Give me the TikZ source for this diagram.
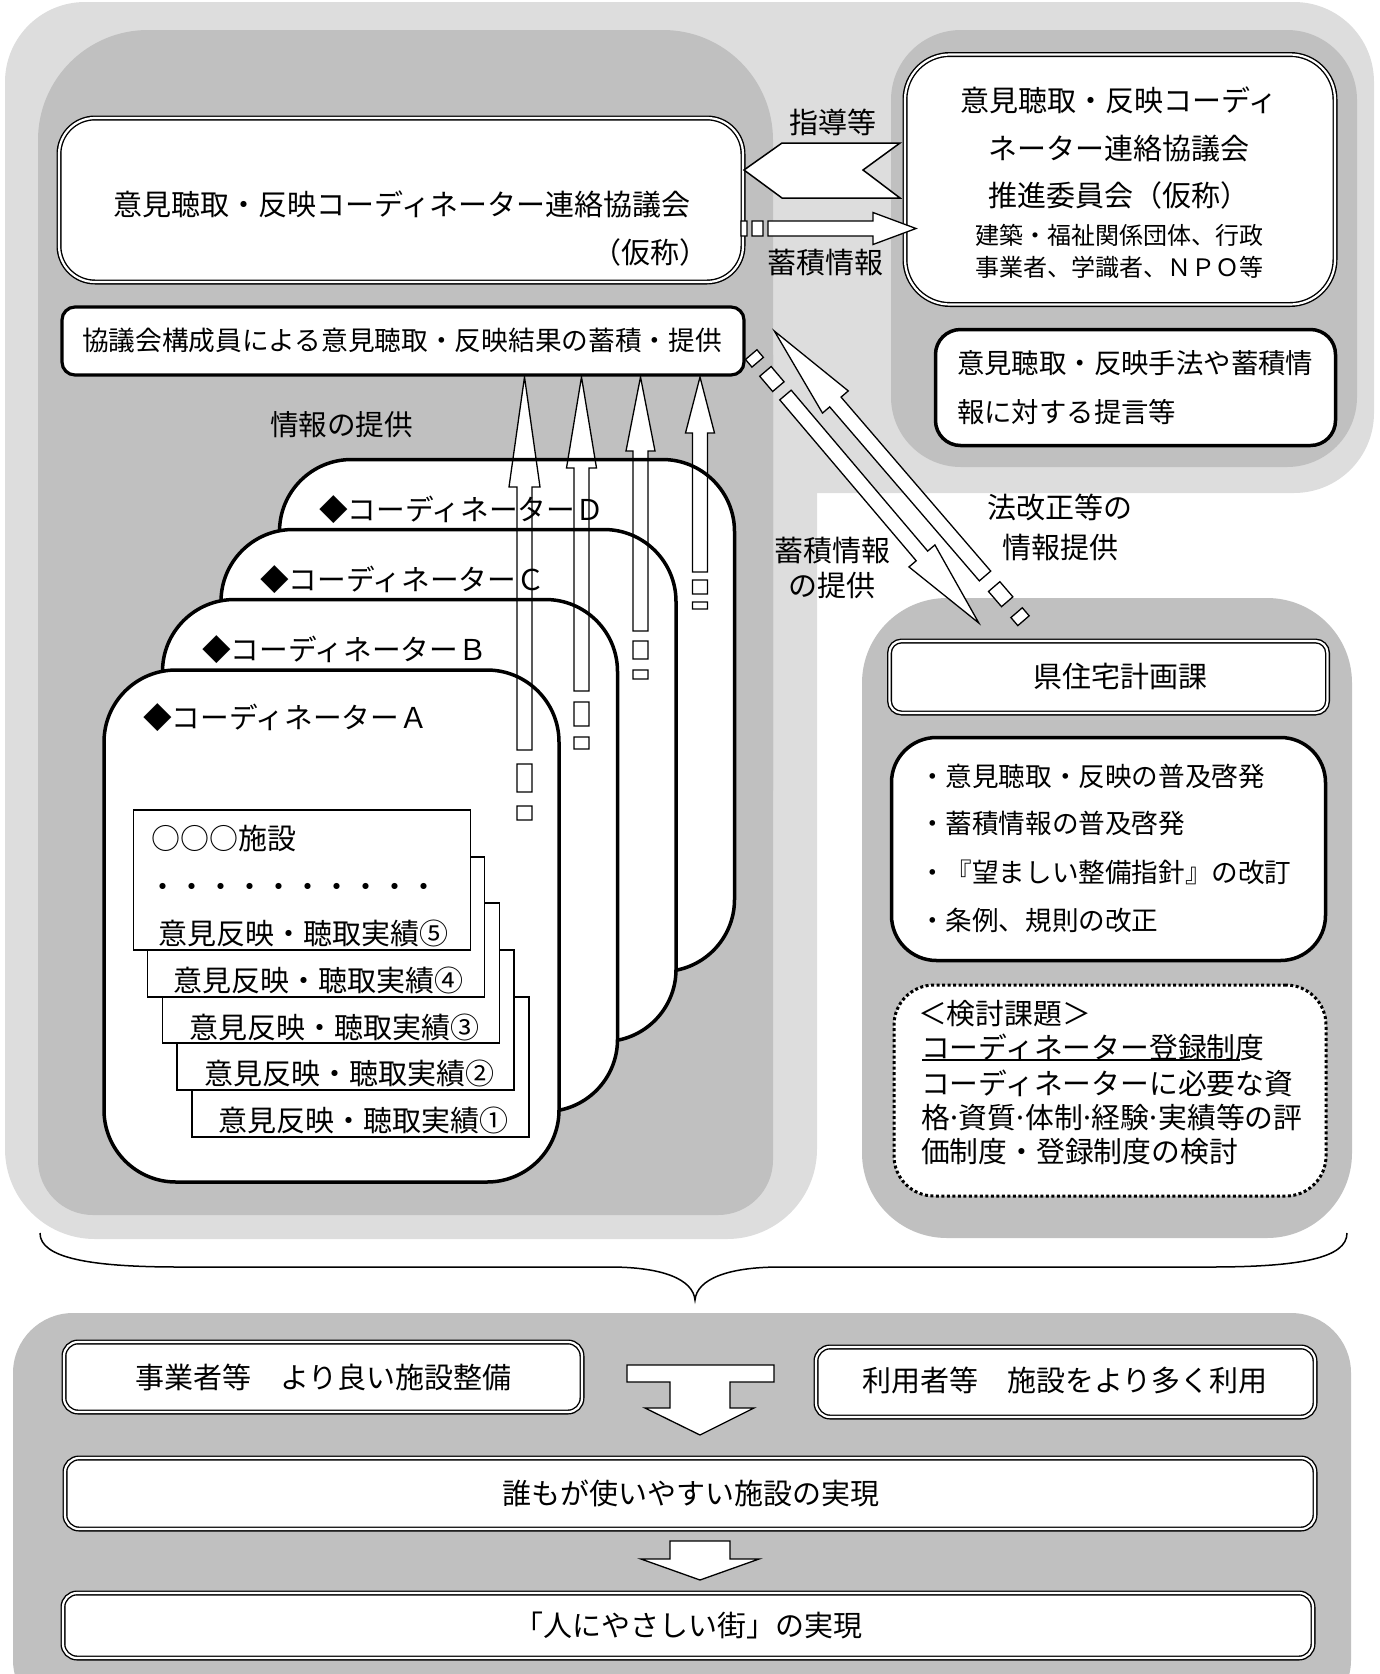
\documentclass[tikz,border=0pt]{standalone}
\usepackage{fontspec}
\setmainfont{Noto Sans CJK JP}
\definecolor{lg}{RGB}{221,221,221}
\definecolor{dg}{RGB}{192,192,192}
\def\bhw{7.5}
\def\hhw{15}
\newcommand{\sarrow}[9]{%
  \path[#1, shift={#2}, rotate=#3] (0,-\bhw) rectangle (#4,\bhw) (#5,-\bhw) rectangle (#6,\bhw)
    (#7,-\bhw) -- (#8,-\bhw) -- (#8,-\hhw) -- (#9,0) -- (#8,\hhw) -- (#8,\bhw) -- (#7,\bhw) -- cycle;}
\newcommand{\nd}{\kern-3.6pt·\kern-3.6pt}
\begin{document}
\begin{tikzpicture}[x=1pt,y=-1pt,
  every node/.style={inner sep=0pt,outer sep=0pt},
  tx/.style={font=\fontsize{#1}{#1}\selectfont, yshift=-0.38*#1},
  tx/.default=29,
  dbl/.style={fill=white, draw=black, line width=1.4pt, double=white, double distance=2.2pt},
  thk/.style={fill=white, draw=black, line width=3.2pt},
  cb/.style={fill=white, draw=black, line width=3.5pt, rounded corners=72pt, minimum width=455pt, minimum height=512pt},
  cd/.style={fill=white, draw=black, line width=1.4pt, minimum width=337pt, minimum height=140pt},
  arr/.style={fill=white, draw=black, line width=1.3pt},
  arrline/.style={draw=black, line width=1.3pt},
]
\useasboundingbox (0,0) rectangle (1380,1674);
\clip (0,0) rectangle (1380,1674);
% backgrounds
\fill[lg, rounded corners=80pt] (5,2) rectangle (1374,493);
\fill[lg, rounded corners=90pt] (5,2) rectangle (817,1239);
\fill[dg, rounded corners=110pt] (38,30) rectangle (773,900);
\fill[dg, rounded corners=55pt] (38,300) rectangle (773,1215);
\fill[dg, rounded corners=70pt] (891,30) rectangle (1357,467);
\fill[dg, rounded corners=85pt] (862,598) rectangle (1352,1238);
\fill[dg, rounded corners=60pt] (13,1313) rectangle (1351,1720);
% brace
\draw[line width=1.5pt] (40,1233) .. controls (40,1258) and (90,1267) .. (180,1267) -- (610,1267)
  .. controls (662,1267) and (693,1279) .. (695,1300) .. controls (697,1279) and (728,1267) .. (780,1267)
  -- (1210,1267) .. controls (1300,1267) and (1347,1258) .. (1347,1233);
% vertical arrows: fill pass
\def\hhw{15.5}\sarrow{fill=white}{(524.5,820)}{90}{14}{28}{56}{70}{333}{443}
\def\hhw{15}\sarrow{fill=white}{(581.5,749)}{90}{12}{23}{47}{58}{281}{372}
\def\hhw{14.5}\sarrow{fill=white}{(640.5,679)}{90}{9}{20}{38}{48}{228}{302}
\def\hhw{14.5}\sarrow{fill=white}{(700,609)}{90}{7}{15}{29}{37}{176}{232}
% coordinator boxes
\node[cb] (cD) at (507,715.5) {};
\node[cb] (cC) at (448.5,785.5) {};
\node[cb] (cB) at (390,855.5) {};
\node[cb] (cA) at (331.5,926) {};
% cards
\node[cd] (k1) at (360.5,1067) {};
\node[cd] (k2) at (345.5,1020) {};
\node[cd] (k3) at (331,973) {};
\node[cd] (k4) at (316,927) {};
\node[cd] (k5) at (302,880) {};
% vertical arrows: outline pass
\def\hhw{15.5}\sarrow{arrline}{(524.5,820)}{90}{14}{28}{56}{70}{333}{443}
\def\hhw{15}\sarrow{arrline}{(581.5,749)}{90}{12}{23}{47}{58}{281}{372}
\def\hhw{14.5}\sarrow{arrline}{(640.5,679)}{90}{9}{20}{38}{48}{228}{302}
\def\hhw{14.5}\sarrow{arrline}{(700,609)}{90}{7}{15}{29}{37}{176}{232}
% main boxes
\node[dbl, rounded corners=36pt, minimum width=684pt, minimum height=164pt] (b1) at (401,200) {};
\node[thk, rounded corners=13pt, minimum width=682pt, minimum height=68pt] (b2) at (403,341) {};
\node[dbl, rounded corners=45pt, minimum width=430pt, minimum height=250pt] (b3) at (1120,179.5) {};
\node[thk, line width=3.5pt, rounded corners=25pt, minimum width=400pt, minimum height=116pt] (b4) at (1135.5,387.5) {};
\node[dbl, rounded corners=12pt, minimum width=438pt, minimum height=72pt] (b5) at (1108.5,677) {};
\node[thk, line width=3.5pt, rounded corners=45pt, minimum width=434pt, minimum height=223pt] (b6) at (1108.5,849) {};
\node[fill=white, draw=black, line width=3pt, dash pattern=on 3pt off 2.5pt, rounded corners=40pt, minimum width=432pt, minimum height=211pt] (b7) at (1110,1090.5) {};
\node[dbl, rounded corners=14pt, minimum width=518pt, minimum height=70pt] (b8) at (323,1377) {};
\node[dbl, rounded corners=14pt, minimum width=499pt, minimum height=70pt] (b9) at (1065.5,1382) {};
\node[dbl, rounded corners=14pt, minimum width=1250pt, minimum height=71pt] (b10) at (690,1493.5) {};
\node[dbl, rounded corners=14pt, minimum width=1250pt, minimum height=65pt] (b11) at (688,1625.5) {};
% other arrows
\path[arr, line width=1.5pt] (744,170) -- (782,143) -- (900,143) -- (863,170) -- (900,198) -- (782,198) -- cycle;
\def\hhw{16}\sarrow{arr}{(741,228.5)}{0}{6}{11}{22}{27}{132}{175}
\def\hhw{17}\sarrow{arr}{(751.2,354.6)}{-49.7}{10}{22}{42}{53}{264}{352}
\def\hhw{17}\sarrow{arr}{(1023.5,620.7)}{130.7}{10.6}{25}{45}{59}{288.5}{382}
\path[arr] (627,1365) -- (774,1365) -- (774,1382) -- (730,1382) -- (730,1408) -- (754,1408) -- (700,1435)
  -- (645,1408) -- (670,1408) -- (670,1382) -- (627,1382) -- cycle;
\path[arr] (670,1541) -- (730,1541) -- (730,1559) -- (759,1559) -- (700,1580) -- (641,1559) -- (670,1559) -- cycle;
% texts
\node[tx,anchor=base] (t1a) at (402,204) {意見聴取・反映コーディネーター連絡協議会};
\node[tx,anchor=base east] (t1b) at (708,252) {（仮称）};
\node[tx=26.7,anchor=base] (t2) at (402,340) {協議会構成員による意見聴取・反映結果の蓄積・提供};
\node[tx,anchor=base] (t3a) at (1119,100) {意見聴取・反映コーディ};
\node[tx,anchor=base] (t3b) at (1119,148) {ネーター連絡協議会};
\node[tx,anchor=base] (t3c) at (1119,195) {推進委員会（仮称）};
\node[tx=24,anchor=base] (t3d) at (1119,235) {建築・福祉関係団体、行政};
\node[tx=24,anchor=base] (t3e) at (1119,267) {事業者、学識者、ＮＰＯ等};
\node[tx=27.4,anchor=base west] (t4a) at (957,363) {意見聴取・反映手法や蓄積情};
\node[tx=27.4,anchor=base west] (t4b) at (957,412) {報に対する提言等};
\node[tx,anchor=base] (t5) at (1120,676) {県住宅計画課};
\node[tx=26.6,anchor=base west] (t6a) at (919,776) {・意見聴取・反映の普及啓発};
\node[tx=26.6,anchor=base west] (t6b) at (919,823) {・蓄積情報の普及啓発};
\node[tx=26.6,anchor=base west] (t6c) at (919,872) {・『望ましい整備指針』の改訂};
\node[tx=26.6,anchor=base west] (t6d) at (919,920) {・条例、規則の改正};
\node[tx=28.8,anchor=base west] (t7a) at (918,1014) {＜検討課題＞};
\node[tx=28.8,anchor=base west] (t7b) at (921,1048) {コーディネーター登録制度};
\draw[line width=1.5pt] (922,1060) -- (1240,1060);
\node[tx=28.8,anchor=base west] (t7c) at (921,1084) {コーディネーターに必要な資};
\node[tx=28.8,anchor=base west] (t7d) at (921,1118) {格\nd 資質\nd 体制\nd 経験\nd 実績等の評};
\node[tx=28.8,anchor=base west] (t7e) at (921,1152) {価制度・登録制度の検討};
\node[tx,anchor=base] (l1) at (833,122) {指導等};
\node[tx,anchor=base] (l2) at (825,262) {蓄積情報};
\node[tx=28.6,anchor=base west] (l3) at (270,425) {情報の提供};
\node[tx,anchor=base] (l4a) at (832,550) {蓄積情報};
\node[tx,anchor=base] (l4b) at (832,585) {の提供};
\node[tx,anchor=base] (l5a) at (1060,507) {法改正等の};
\node[tx,anchor=base] (l5b) at (1060,547) {情報提供};
\node[tx=28.7,anchor=base west] (nD) at (319,510) {◆コーディネーターＤ};
\node[tx=28.7,anchor=base west] (nC) at (260,580) {◆コーディネーターＣ};
\node[tx=28.7,anchor=base west] (nB) at (202,650) {◆コーディネーターＢ};
\node[tx=28.7,anchor=base west] (nA) at (143,718) {◆コーディネーターＡ};
\node[tx,anchor=base west] (k5a) at (151,838) {○○○施設};
\node[tx,anchor=base west] (k5b) at (148,886) {・・・・・・・・・・};
\node[tx,anchor=base west] (k5c) at (158,933) {意見反映・聴取実績⑤};
\node[tx,anchor=base west] (k4t) at (173,980) {意見反映・聴取実績④};
\node[tx,anchor=base west] (k3t) at (189,1027) {意見反映・聴取実績③};
\node[tx,anchor=base west] (k2t) at (204,1073) {意見反映・聴取実績②};
\node[tx,anchor=base west] (k1t) at (218,1120) {意見反映・聴取実績①};
\node[tx,anchor=base] (u1) at (323.5,1377) {事業者等　より良い施設整備};
\node[tx,anchor=base] (u2) at (1065,1380) {利用者等　施設をより多く利用};
\node[tx,anchor=base] (u3) at (691,1493) {誰もが使いやすい施設の実現};
\node[tx,anchor=base] (u4) at (688,1625) {「人にやさしい街」の実現};
\end{tikzpicture}
\end{document}
